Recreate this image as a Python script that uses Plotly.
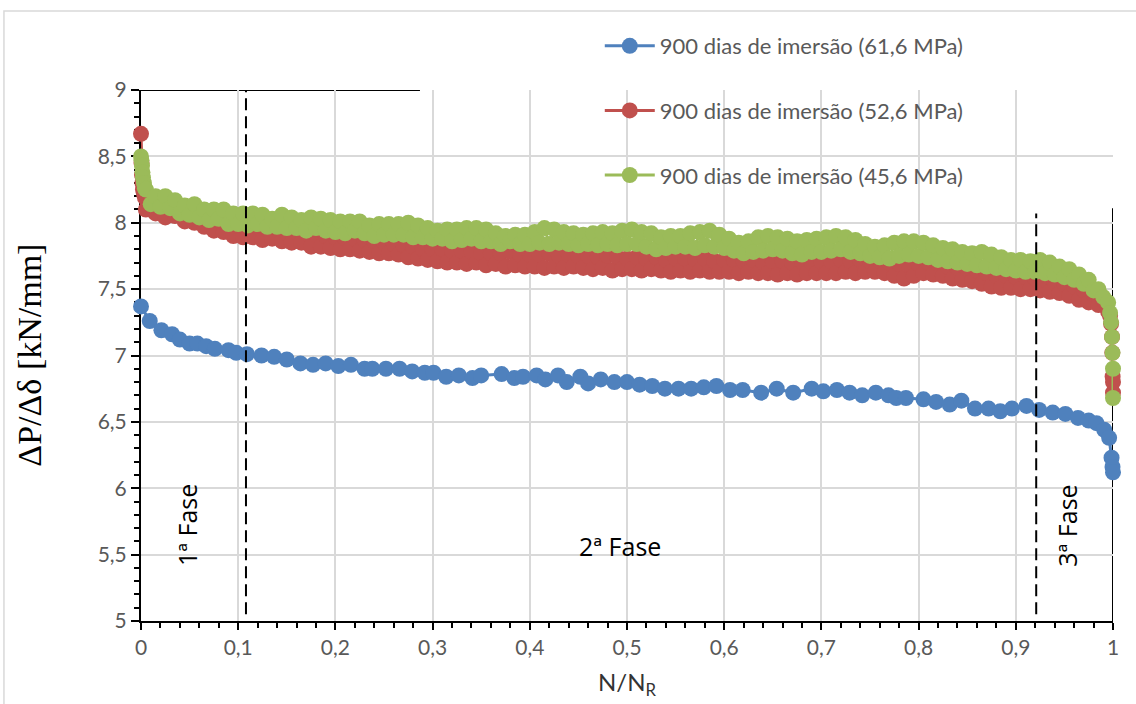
import plotly.graph_objects as go

# ---- data -------------------------------------------------------------
# N/N_R vs. stiffness dP/d(delta) for three stress levels after 900 days of immersion
blue_name = "900 dias de imersão (61,6 MPa)"
red_name = "900 dias de imersão (52,6 MPa)"
green_name = "900 dias de imersão (45,6 MPa)"

blue_x = [0.000, 0.009, 0.021, 0.032, 0.040, 0.050, 0.058, 0.067, 0.076, 0.090,
          0.098, 0.109, 0.124, 0.137, 0.150, 0.164, 0.177, 0.190, 0.203, 0.216,
          0.230, 0.238, 0.252, 0.266, 0.279, 0.292, 0.301, 0.314, 0.327, 0.341,
          0.350, 0.371, 0.384, 0.393, 0.407, 0.416, 0.429, 0.438, 0.452, 0.460,
          0.473, 0.487, 0.500, 0.513, 0.526, 0.539, 0.553, 0.566, 0.579, 0.592,
          0.606, 0.619, 0.638, 0.654, 0.671, 0.690, 0.702, 0.716, 0.729, 0.742,
          0.756, 0.769, 0.777, 0.787, 0.805, 0.818, 0.832, 0.844, 0.858, 0.872,
          0.884, 0.896, 0.911, 0.924, 0.938, 0.951, 0.964, 0.975, 0.983, 0.991,
          0.996, 0.9985, 0.9995, 1.000]
blue_y = [7.37, 7.26, 7.19, 7.16, 7.12, 7.09, 7.09, 7.07, 7.05, 7.04,
          7.02, 7.01, 7.00, 6.99, 6.97, 6.94, 6.93, 6.94, 6.92, 6.93,
          6.90, 6.90, 6.90, 6.90, 6.88, 6.87, 6.87, 6.84, 6.85, 6.83,
          6.85, 6.86, 6.83, 6.84, 6.85, 6.82, 6.85, 6.80, 6.84, 6.79,
          6.82, 6.80, 6.80, 6.78, 6.77, 6.75, 6.75, 6.75, 6.76, 6.77,
          6.74, 6.74, 6.72, 6.75, 6.72, 6.75, 6.73, 6.74, 6.72, 6.70,
          6.72, 6.70, 6.68, 6.68, 6.67, 6.65, 6.63, 6.66, 6.60, 6.60,
          6.58, 6.60, 6.62, 6.59, 6.57, 6.56, 6.53, 6.51, 6.49, 6.44,
          6.38, 6.23, 6.16, 6.12]

# red / green series: dense start, regular sampling every 0.005 N/N_R, dense end
SAMPLE_STEP = 0.005
head_x = [0.0, 0.0005, 0.001, 0.0015, 0.002, 0.003, 0.004]
body_x = [round(SAMPLE_STEP * k, 4) for k in range(1, 200)]

red_head_y = [8.67, 8.45, 8.36, 8.30, 8.25, 8.22, 8.19]
red_body_y = [
    8.10, 8.16, 8.07, 8.13, 8.04, 8.13, 8.05, 8.11, 8.01, 8.08,
    8.00, 8.08, 7.97, 8.03, 7.94, 8.02, 7.93, 8.01, 7.90, 7.98,
    7.89, 7.94, 7.89, 7.97, 7.87, 7.95, 7.88, 7.96, 7.86, 7.92,
    7.85, 7.93, 7.85, 7.92, 7.82, 7.91, 7.82, 7.90, 7.81, 7.89,
    7.80, 7.88, 7.80, 7.88, 7.79, 7.87, 7.78, 7.86, 7.77, 7.85,
    7.77, 7.84, 7.76, 7.83, 7.74, 7.82, 7.73, 7.80, 7.72, 7.80,
    7.71, 7.80, 7.70, 7.79, 7.70, 7.79, 7.69, 7.78, 7.70, 7.77,
    7.68, 7.77, 7.69, 7.77, 7.67, 7.78, 7.68, 7.76, 7.67, 7.76,
    7.67, 7.76, 7.66, 7.77, 7.67, 7.75, 7.66, 7.76, 7.67, 7.75,
    7.66, 7.75, 7.65, 7.74, 7.66, 7.75, 7.64, 7.74, 7.65, 7.73,
    7.65, 7.74, 7.64, 7.73, 7.65, 7.74, 7.64, 7.72, 7.63, 7.73,
    7.64, 7.73, 7.63, 7.72, 7.64, 7.73, 7.63, 7.71, 7.63, 7.72,
    7.63, 7.72, 7.62, 7.71, 7.63, 7.72, 7.62, 7.70, 7.62, 7.71,
    7.61, 7.71, 7.62, 7.70, 7.61, 7.71, 7.62, 7.70, 7.62, 7.71,
    7.62, 7.71, 7.62, 7.72, 7.63, 7.71, 7.62, 7.72, 7.63, 7.71,
    7.63, 7.71, 7.62, 7.70, 7.60, 7.69, 7.58, 7.68, 7.60, 7.69,
    7.62, 7.70, 7.61, 7.69, 7.60, 7.67, 7.58, 7.66, 7.57, 7.65,
    7.56, 7.64, 7.54, 7.62, 7.52, 7.60, 7.51, 7.60, 7.51, 7.59,
    7.50, 7.59, 7.50, 7.58, 7.49, 7.57, 7.48, 7.55, 7.47, 7.54,
    7.45, 7.52, 7.42, 7.49, 7.40, 7.46, 7.38, 7.42, 7.33]
red_tail_x = [0.997, 0.998, 0.999, 0.9993, 0.9996, 1.0, 1.0]
red_tail_y = [7.30, 7.24, 7.14, 7.02, 6.84, 6.80, 6.72]

green_head_y = [8.50, 8.47, 8.43, 8.38, 8.34, 8.30, 8.26]
green_body_y = [
    8.25, 8.14, 8.20, 8.12, 8.20, 8.11, 8.17, 8.07, 8.13, 8.06,
    8.14, 8.04, 8.10, 8.02, 8.10, 8.03, 8.10, 7.99, 8.07, 7.99,
    8.07, 7.98, 8.07, 7.99, 8.06, 7.97, 8.03, 7.97, 8.06, 7.96,
    8.04, 7.96, 8.02, 7.94, 8.04, 7.96, 8.03, 7.94, 8.02, 7.93,
    8.01, 7.92, 8.01, 7.94, 8.01, 7.92, 7.98, 7.90, 7.99, 7.91,
    7.99, 7.91, 7.99, 7.91, 8.00, 7.89, 7.98, 7.89, 7.96, 7.88,
    7.94, 7.88, 7.95, 7.86, 7.95, 7.87, 7.96, 7.88, 7.96, 7.86,
    7.95, 7.86, 7.92, 7.84, 7.90, 7.86, 7.91, 7.84, 7.91, 7.84,
    7.93, 7.85, 7.96, 7.84, 7.95, 7.85, 7.93, 7.84, 7.92, 7.83,
    7.91, 7.84, 7.92, 7.83, 7.93, 7.84, 7.92, 7.83, 7.94, 7.84,
    7.95, 7.84, 7.93, 7.82, 7.92, 7.80, 7.89, 7.81, 7.90, 7.82,
    7.90, 7.82, 7.92, 7.81, 7.93, 7.83, 7.94, 7.82, 7.91, 7.81,
    7.88, 7.79, 7.85, 7.77, 7.86, 7.78, 7.89, 7.79, 7.90, 7.80,
    7.89, 7.79, 7.88, 7.77, 7.86, 7.76, 7.87, 7.78, 7.88, 7.78,
    7.89, 7.79, 7.90, 7.80, 7.89, 7.78, 7.87, 7.77, 7.84, 7.75,
    7.82, 7.74, 7.83, 7.73, 7.85, 7.75, 7.86, 7.76, 7.86, 7.75,
    7.85, 7.74, 7.83, 7.72, 7.81, 7.71, 7.80, 7.70, 7.78, 7.69,
    7.77, 7.68, 7.78, 7.67, 7.76, 7.66, 7.74, 7.65, 7.72, 7.64,
    7.72, 7.63, 7.71, 7.63, 7.72, 7.62, 7.70, 7.61, 7.67, 7.59,
    7.65, 7.57, 7.61, 7.54, 7.57, 7.49, 7.50, 7.44, 7.40]
green_tail_x = [0.997, 0.998, 0.999, 0.9995, 1.0, 1.0]
green_tail_y = [7.32, 7.25, 7.14, 7.02, 6.90, 6.68]

# phase boundaries (N/N_R)
phase_1_end = 0.108
phase_3_start = 0.921

x_ticks = [0, 0.1, 0.2, 0.3, 0.4, 0.5, 0.6, 0.7, 0.8, 0.9, 1]
y_ticks = [5, 5.5, 6, 6.5, 7, 7.5, 8, 8.5, 9]

assert len(blue_x) == len(blue_y)
assert len(body_x) == len(red_body_y) == len(green_body_y)

red_x = head_x + body_x + red_tail_x
red_y = red_head_y + red_body_y + red_tail_y
green_x = head_x + body_x + green_tail_x
green_y = green_head_y + green_body_y + green_tail_y

# ---- figure -----------------------------------------------------------
BLUE, RED, GREEN = "#4F81BD", "#C0504D", "#9BBB59"
TICK_GREY = "#595959"
GRID = "#d9d9d9"
FONT = "Lato"

fig = go.Figure()
for name, xs, ys, col, grp in [(blue_name, blue_x, blue_y, BLUE, "a"),
                               (red_name, red_x, red_y, RED, "b"),
                               (green_name, green_x, green_y, GREEN, "c")]:
    fig.add_trace(go.Scatter(
        x=xs, y=ys, name=name, mode="lines+markers", legendgroup=grp,
        line=dict(color=col, width=3),
        marker=dict(color=col, size=16, line=dict(width=0)),
        cliponaxis=False,
    ))

fig.update_xaxes(
    range=[0, 1], tickvals=x_ticks, showgrid=True, gridcolor=GRID, gridwidth=1.5,
    zeroline=False, showline=True, linecolor="black", linewidth=2,
    ticks="outside", ticklen=7, tickwidth=2, tickcolor="black",
    minor=dict(dtick=0.02, tick0=0, ticks="outside", ticklen=5, tickwidth=1.5,
               tickcolor="black", showgrid=False),
    tickfont=dict(family=FONT, size=21, color=TICK_GREY),
    layer="below traces",
)
fig.update_yaxes(
    range=[5, 9], tickvals=y_ticks, showgrid=True, gridcolor=GRID, gridwidth=1.5,
    zeroline=False, showline=True, linecolor="black", linewidth=2,
    ticks="outside", ticklen=8, tickwidth=2, tickcolor="black",
    minor=dict(dtick=0.1, tick0=5, ticks="outside", ticklen=5, tickwidth=1.5,
               tickcolor="black", showgrid=False),
    tickfont=dict(family=FONT, size=21, color=TICK_GREY),
    layer="below traces",
)

shapes = [
    # outer chart frame
    dict(type="rect", xref="paper", yref="paper", x0=-0.141, x1=1.05, y0=-0.25, y1=1.149,
         line=dict(color=GRID, width=1.5), layer="below"),
    # solid black guide lines
    dict(type="line", x0=0, x1=0.287, y0=9, y1=9, line=dict(color="black", width=2), layer="below"),
    dict(type="line", x0=1, x1=1, y0=5, y1=8.11, line=dict(color="black", width=2), layer="below"),
    # phase boundaries
    dict(type="line", x0=phase_1_end, x1=phase_1_end, y0=5.05, y1=9,
         line=dict(color="black", width=2, dash="12px,6px"), layer="above"),
    dict(type="line", x0=phase_3_start, x1=phase_3_start, y0=5.05, y1=8.07,
         line=dict(color="black", width=2, dash="12px,6px"), layer="above"),
]

phase_font = dict(family="Open Sans", size=25, color="black")
annotations = [
    dict(text="1ª Fase", x=0.048, y=5.72, textangle=-90, showarrow=False, font=phase_font),
    dict(text="2ª Fase", x=0.493, y=5.565, showarrow=False, font=phase_font),
    dict(text="3ª Fase", x=0.953, y=5.72, textangle=-90, showarrow=False, font=phase_font),
    dict(text="ΔP/Δδ [kN/mm]", xref="paper", yref="paper", x=-0.115, y=0.5,
         xanchor="center", yanchor="middle", textangle=-90, showarrow=False,
         font=dict(family="Liberation Serif", size=34, color="black")),
    dict(text="N/N<sub>R</sub>", xref="paper", yref="paper", x=0.5, y=-0.117,
         xanchor="center", yanchor="middle", showarrow=False,
         font=dict(family=FONT, size=24, color="#333333")),
]

fig.update_layout(
    width=1136, height=704,
    margin=dict(l=141, r=23, t=90, b=83),
    paper_bgcolor="white", plot_bgcolor="white",
    separators=",.",
    shapes=shapes, annotations=annotations,
    showlegend=True,
    legend=dict(x=0.472, y=1.1224, xanchor="left", yanchor="top",
                font=dict(family=FONT, size=22, color=TICK_GREY),
                bgcolor="rgba(0,0,0,0)", tracegroupgap=33, itemwidth=50),
)

fig.write_html("out.html")
